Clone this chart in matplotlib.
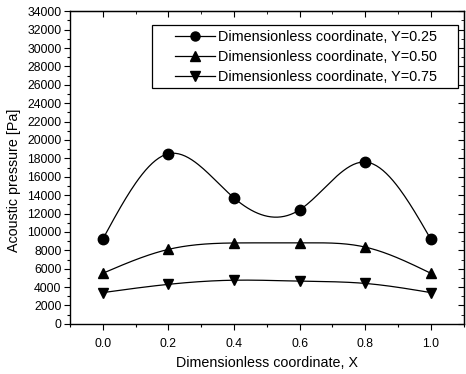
import numpy as np
import matplotlib.pyplot as plt
from matplotlib.patches import Rectangle
from matplotlib.ticker import MultipleLocator

plt.rcParams['font.family'] = ['Liberation Sans', 'DejaVu Sans']

x = [0.0, 0.2, 0.4, 0.6, 0.8, 1.0]
p_y025 = [9200, 18500, 13700, 12400, 17600, 9200]
p_y050 = [5500, 8100, 8800, 8800, 8350, 5500]
p_y075 = [3400, 4300, 4750, 4650, 4400, 3400]
labels = ["Dimensionless coordinate, Y=0.25",
          "Dimensionless coordinate, Y=0.50",
          "Dimensionless coordinate, Y=0.75"]
markers = ['o', '^', 'v']


def natural_spline(xs, ys, n=200):
    # plain natural cubic spline, only for drawing the smooth connecting line
    xs = np.asarray(xs, float)
    ys = np.asarray(ys, float)
    k = len(xs)
    h = np.diff(xs)
    A = np.zeros((k, k))
    b = np.zeros(k)
    A[0, 0] = A[-1, -1] = 1
    for i in range(1, k - 1):
        A[i, i - 1] = h[i - 1]
        A[i, i] = 2 * (h[i - 1] + h[i])
        A[i, i + 1] = h[i]
        b[i] = 6 * ((ys[i + 1] - ys[i]) / h[i] - (ys[i] - ys[i - 1]) / h[i - 1])
    M = np.linalg.solve(A, b)
    xf = np.linspace(xs[0], xs[-1], n)
    idx = np.clip(np.searchsorted(xs, xf) - 1, 0, k - 2)
    x0, x1 = xs[idx], xs[idx + 1]
    hh = x1 - x0
    t0, t1 = x1 - xf, xf - x0
    yf = (M[idx] * t0**3 + M[idx + 1] * t1**3) / (6 * hh) \
        + (ys[idx] / hh - M[idx] * hh / 6) * t0 \
        + (ys[idx + 1] / hh - M[idx + 1] * hh / 6) * t1
    return xf, yf


fig = plt.figure(figsize=(4.66, 3.74), dpi=100)
ax = fig.add_axes([0.150, 0.134, 0.845, 0.836])

for ys, m, lab in zip([p_y025, p_y050, p_y075], markers, labels):
    xf, yf = natural_spline(x, ys)
    ax.plot(xf, yf, color='black', lw=0.9)
    ax.plot(x, ys, linestyle='none', marker=m, color='black', markersize=7.5)
    ax.plot([], [], color='black', lw=0.9, marker=m, markersize=6.5, label=lab)

ax.set_xlim(-0.1, 1.1)
ax.set_ylim(0, 34000)
ax.xaxis.set_minor_locator(MultipleLocator(0.1))
ax.yaxis.set_major_locator(MultipleLocator(2000))
ax.yaxis.set_minor_locator(MultipleLocator(1000))
ax.set_xticks([0.0, 0.2, 0.4, 0.6, 0.8, 1.0])
ax.set_xticklabels(['0.0', '0.2', '0.4', '0.6', '0.8', '1.0'])

ax.tick_params(axis='both', which='both', direction='out', labelsize=8.8,
               top=False, right=False, width=0.8)
ax.tick_params(which='major', length=4.5)
ax.tick_params(which='minor', length=2.2)
ax.tick_params(axis='x', pad=6)
ax.tick_params(axis='y', pad=1.5)
ax2 = ax.secondary_xaxis('top')
ax2.set_xticks([0.0, 0.2, 0.4, 0.6, 0.8, 1.0])
ax2.xaxis.set_minor_locator(MultipleLocator(0.1))
ax2.tick_params(direction='in', labeltop=False, length=4.5)
ax2.tick_params(which='minor', direction='in', length=2.2)
ay2 = ax.secondary_yaxis('right')
ay2.yaxis.set_major_locator(MultipleLocator(2000))
ay2.yaxis.set_minor_locator(MultipleLocator(1000))
ay2.tick_params(direction='in', labelright=False, length=4.5)
ay2.tick_params(which='minor', direction='in', length=2.2)

for s in ax.spines.values():
    s.set_linewidth(1.0)

ax.set_xlabel("Dimensionless coordinate, X", fontsize=10.3, labelpad=4)
ax.set_ylabel("Acoustic pressure [Pa]", fontsize=10.3)
ax.yaxis.set_label_coords(-0.125, 0.458)

leg = ax.legend(loc='center left', bbox_to_anchor=(0.267, 0.853), fontsize=10.4,
                frameon=False, handlelength=2.78, borderpad=0, labelspacing=0.42,
                handletextpad=0.2, borderaxespad=0)
ax.add_patch(Rectangle((0.2087, 0.753), 0.776, 0.202, transform=ax.transAxes,
                       fill=False, edgecolor='black', lw=0.9, zorder=5))

fig.savefig("out.png", dpi=100)
